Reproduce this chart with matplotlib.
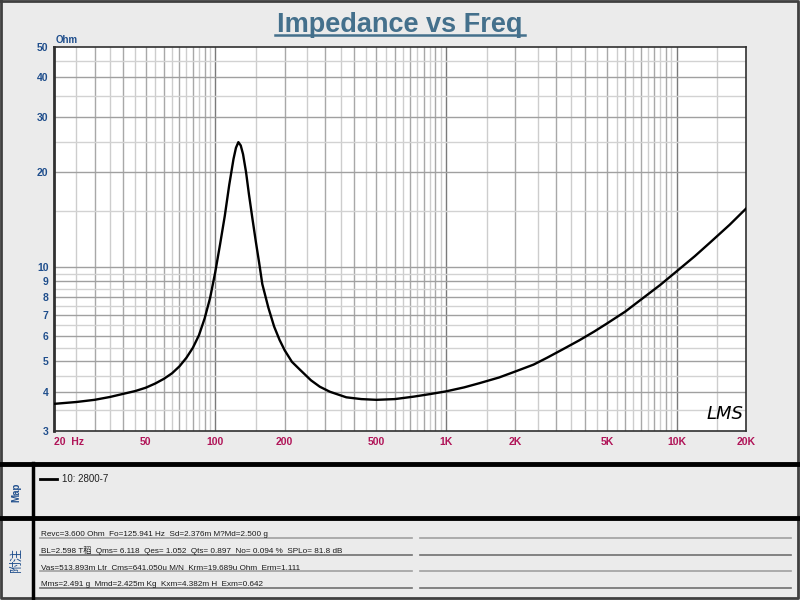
import numpy as np
import matplotlib.pyplot as plt

# impedance curve (Hz, Ohm)
freq = [20, 25, 30, 35, 40, 45, 50, 55, 60, 65, 70, 75, 80, 85, 90, 95,
        100, 105, 110, 115, 120, 123, 126, 129, 132, 136, 140, 145, 150,
        155, 160, 170, 180, 190, 200, 215, 233, 260, 284, 314, 370, 430,
        500, 600, 727, 850, 1000, 1200, 1400, 1700, 2000, 2400, 2744, 3200,
        3787, 4400, 5000, 6000, 7000, 8500, 10000, 12000, 14000, 17000,
        20000]
ohm = [3.66, 3.71, 3.77, 3.85, 3.94, 4.02, 4.12, 4.25, 4.40, 4.58, 4.82,
       5.13, 5.52, 6.05, 6.85, 7.95, 9.6, 11.8, 14.5, 18.2, 22.0, 23.9,
       24.9, 24.3, 22.8, 20.0, 17.0, 14.2, 12.0, 10.3, 8.8, 7.4, 6.45,
       5.85, 5.42, 4.98, 4.70, 4.35, 4.15, 4.0, 3.84, 3.79, 3.77, 3.79,
       3.86, 3.93, 4.01, 4.13, 4.26, 4.44, 4.64, 4.88, 5.13, 5.45, 5.83,
       6.22, 6.6, 7.2, 7.85, 8.75, 9.66, 10.8, 11.95, 13.6, 15.3]

xticks = [20, 50, 100, 200, 500, 1000, 2000, 5000, 10000, 20000]
xlabels = ['20  Hz', '50', '100', '200', '500', '1K', '2K', '5K', '10K', '20K']
yticks = [3, 4, 5, 6, 7, 8, 9, 10, 20, 30, 40, 50]
ylabels = [str(v) for v in yticks]

legend_label = '10: 2800-7'
notes = ['Revc=3.600 Ohm  Fo=125.941 Hz  Sd=2.376m M?Md=2.500 g',
         'BL=2.598 T稻  Qms= 6.118  Qes= 1.052  Qts= 0.897  No= 0.094 %  SPLo= 81.8 dB',
         'Vas=513.893m Ltr  Cms=641.050u M/N  Krm=19.689u Ohm  Erm=1.111',
         'Mms=2.491 g  Mmd=2.425m Kg  Kxm=4.382m H  Exm=0.642']

blue = '#1F4E8C'
red = '#B01458'
bg = '#EBEBEB'
fonts = ['Liberation Sans', 'Noto Sans CJK SC', 'DejaVu Sans']

fig = plt.figure(figsize=(8, 6), dpi=100, facecolor=bg)

# background layer in pixel coordinates
bga = fig.add_axes([0, 0, 1, 1])
bga.set_xlim(0, 800)
bga.set_ylim(600, 0)
bga.axis('off')

# outer frame and panel separators
bga.plot([1, 798, 798, 1, 1], [1, 1, 598, 598, 1], color='#404040', lw=2)
bga.plot([0, 800], [463.5, 463.5], color='black', lw=3.5)
bga.plot([0, 800], [517.5, 517.5], color='black', lw=3.5)
bga.plot([33, 33], [463, 600], color='black', lw=2.5)

bga.text(16, 492, 'Map', rotation=90, ha='center', va='center', color=blue,
         fontsize=7, fontweight='bold', family=fonts)
bga.text(16, 559, '附注', rotation=90, ha='center', va='center', color=blue,
         fontsize=9, family=['Noto Sans CJK SC', 'DejaVu Sans'])

# legend entry
bga.plot([40, 57], [479, 479], color='black', lw=2)
bga.text(62, 479, legend_label, ha='left', va='center', fontsize=7,
         color='#202020', family=fonts)

# notes block
rows = [537.5, 554.5, 571, 587.5]
rowcol = ['#A0A0A0', '#707070', '#A0A0A0', '#707070']
for i, line in enumerate(notes):
    y = rows[i]
    bga.text(41, y - 1.5, line, ha='left', va='baseline', fontsize=5.9,
             color='#1A1A1A', family=fonts)
    bga.plot([40, 412], [y, y], color=rowcol[i], lw=1.2)
    bga.plot([420, 791], [y, y], color=rowcol[i], lw=1.2)

# title with underline
bga.text(400, 31.5, 'Impedance vs Freq', ha='center', va='baseline',
         fontsize=19.5, fontweight='bold', color='#44708C', family=fonts)
bga.plot([275, 525], [35, 35], color='#44708C', lw=1.8)
bga.text(56, 40, 'Ohm', ha='left', va='center', fontsize=7, fontweight='bold',
         color=blue, family=fonts)

# main chart
ax = fig.add_axes([54 / 800, 1 - 431 / 600, 692 / 800, 384 / 600])
ax.set_facecolor('white')
ax.set_xscale('log')
ax.set_yscale('log')
ax.set_xlim(20, 20000)
ax.set_ylim(3, 50)

# grid: every half step inside each decade, whole steps darker
for d in [10, 100, 1000, 10000]:
    for k in np.arange(1.0, 10.0, 0.5):
        v = d * k
        if v <= 20 or v >= 20000:
            continue
        if k == 1.0:
            c = '#7A7A7A'
        elif k == int(k):
            c = '#A8A8A8'
        else:
            c = '#CDCDCD'
        ax.axvline(v, color=c, lw=1, zorder=1)
for d in [1, 10]:
    for k in np.arange(1.0, 10.0, 0.5):
        v = d * k
        if v <= 3 or v >= 50:
            continue
        c = '#A0A0A0' if k == int(k) else '#D2D2D2'
        ax.axhline(v, color=c, lw=1, zorder=1)

ax.plot(freq, ohm, color='black', lw=1.7, zorder=3, solid_joinstyle='round')

ax.xaxis.set_minor_locator(plt.NullLocator())
ax.yaxis.set_minor_locator(plt.NullLocator())
ax.set_xticks(xticks)
ax.set_xticklabels(xlabels)
ax.set_yticks(yticks)
ax.set_yticklabels(ylabels)
ax.tick_params(length=0, pad=4)
for t in ax.get_xticklabels():
    t.set_color(red)
    t.set_fontsize(7.5)
    t.set_fontweight('bold')
    t.set_family(fonts)
ax.get_xticklabels()[0].set_ha('left')
for t in ax.get_yticklabels():
    t.set_color(blue)
    t.set_fontsize(7.5)
    t.set_fontweight('bold')
    t.set_family(fonts)

for s in ['top', 'right', 'bottom']:
    ax.spines[s].set_color('#303030')
    ax.spines[s].set_linewidth(1.2)
ax.spines['left'].set_color('#303030')
ax.spines['left'].set_linewidth(2)

ax.text(0.969, 0.045, 'LMS', transform=ax.transAxes, ha='center',
        va='center', fontsize=13, fontstyle='italic', color='black',
        family='DejaVu Sans', fontweight='light')

fig.savefig('out.png', dpi=100, facecolor=bg)
